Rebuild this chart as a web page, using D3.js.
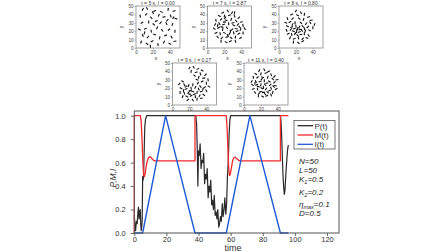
<!DOCTYPE html>
<html><head><meta charset="utf-8">
<script src="https://cdn.jsdelivr.net/npm/d3@7"></script>
<style>body{margin:0;background:#fff}svg{display:block;font-family:"Liberation Sans",Arial,sans-serif}</style>
</head><body><svg id="c" width="448" height="252"></svg>
<script>
// ---------- main chart data ----------
const pTime = [0,0.5,0.8,1.3,1.8,2.3,2.6,3.0,3.3,3.7,4.0,4.3,4.6,4.9,5.2,5.5,5.8,6.2,6.5,7.0,7.7,
38.3,38.8,39.2,39.6,40.0,40.5,41.0,41.6,42.1,42.7,43.2,43.8,44.3,44.9,45.4,46.0,46.5,47.1,47.6,48.2,48.7,49.3,49.8,50.4,50.9,51.5,52.0,52.6,53.1,53.7,54.2,54.8,55.3,55.9,56.4,57.0,57.5,58.0,58.5,59.0,59.5,60.0,
91.0,91.4,91.8,92.2,92.6,93.0,93.4,93.8,94.2,94.6,95.0,95.4,95.8,96.0];
const pVal = [0.15,0.05,0.02,0.1,0.08,0.18,0.22,0.12,0.18,0.2,0.08,0.02,0.05,0.1,0.48,0.45,0.5,0.72,0.9,0.97,1.0,
1.0,0.93,0.72,0.4,0.7,0.66,0.76,0.55,0.62,0.6,0.68,0.42,0.5,0.46,0.55,0.3,0.4,0.35,0.45,0.24,0.28,0.2,0.32,0.15,0.18,0.12,0.2,0.05,0.08,0.14,0.1,0.25,0.14,0.2,0.3,0.16,0.25,0.48,0.6,0.82,0.96,1.0,
1.0,0.95,0.82,0.65,0.5,0.4,0.33,0.36,0.45,0.55,0.62,0.7,0.74,0.75];
const mTime = [0,0,3.8,4.3,4.8,5.3,5.8,6.2,6.7,7.3,8.0,8.8,9.6,10.4,11.2,12.0,13.0,37.8,37.8,57.3,57.8,58.3,58.8,59.3,59.8,60.5,61.3,62.2,63.0,64.0,65.0,66.0,91.0,91.0,96.0];
const mVal = [0,1,1,0.95,0.8,0.62,0.5,0.48,0.5,0.56,0.61,0.64,0.65,0.645,0.63,0.62,0.615,0.615,1,1,0.9,0.72,0.55,0.49,0.5,0.56,0.62,0.645,0.645,0.63,0.62,0.615,0.615,1,1];
const iTime = [0,5.2,19.5,37.8,57.3,72,91,96];
const iVal = [0,0,1,0,0,1,0,0];
const seriesNames = ["P(t)","M(t)","I(t)"];
const xTicks = [0,20,40,60,80,100,120];
const yTicks = [0,0.2,0.4,0.6,0.8,1.0];
const params = [["N","","=50"],["L","","=50"],["K","1","=0.5"],["K","2","=0.2"],["η","max","=0.1"],["D","","=0.5"]];

// ---------- inset data: [x, y, heading in degrees] ----------
const insetTitles = ["t = 5 s, I = 0.00","t = 7 s, I = 2.87","t = 8 s, I = 0.80","t = 9 s, I = 0.27","t = 11 s, I = 0.40"];
const insetTicksX = [0,20,40];
const insetTicksY = [0,10,20,30,40,50];
const inset1 = [[8,46,60],[13,47,120],[22,44,30],[30,43,150],[38,46,80],[45,44,20],
[5,38,100],[12,40,45],[18,36,135],[27,39,70],[33,37,10],[41,38,110],[47,35,160],
[7,30,30],[15,31,90],[21,28,140],[29,30,50],[36,29,120],[43,28,70],
[4,22,150],[11,23,20],[18,20,100],[25,24,60],[31,21,130],[39,22,40],[46,20,90],
[8,15,110],[14,13,50],[22,16,160],[28,12,80],[35,15,20],[42,13,120],
[6,7,70],[13,5,140],[19,8,30],[26,4,100],[33,7,60],[40,5,150],[46,8,10],
[17,2,90],[24,32,20],[10,18,75],[37,33,45],[20,42,115],[44,36,65]];
const inset2 = [[18,42,30],[24,44,120],[29,42,60],[14,38,150],[20,38,80],[26,39,20],[32,38,110],[37,36,45],
[10,33,100],[16,34,40],[22,33,160],[28,34,70],[34,32,130],[40,31,10],
[9,28,60],[14,29,120],[19,28,20],[25,29,90],[31,27,150],[36,28,50],[42,27,100],
[8,23,140],[13,24,30],[18,22,80],[23,24,130],[29,22,40],[34,23,170],[39,22,70],[44,23,120],
[10,18,20],[15,17,100],[20,18,150],[26,17,60],[31,18,110],[37,17,30],[42,18,90],
[12,13,130],[17,12,50],[23,13,10],[28,12,140],[33,13,80],[39,12,40],
[16,8,90],[22,7,150],[27,8,30],[33,8,110],
[21,36,55],[30,30,15],[17,25,165],[27,20,95],[35,20,25],[24,15,125],[12,27,75],[38,25,135],[20,31,5],[32,42,85]];
const inset3 = [[20,44,60],[26,42,120],[15,40,30],[22,39,150],[30,40,80],[35,37,20],
[10,35,110],[16,35,45],[24,35,135],[29,34,70],[38,33,10],
[8,30,160],[13,31,30],[19,30,90],[26,30,140],[32,29,50],[37,30,120],[42,28,70],
[10,26,150],[15,25,20],[20,26,100],[24,25,60],[28,26,130],[34,25,40],[40,24,90],
[9,21,110],[14,22,50],[17,20,160],[21,21,80],[24,19,20],[27,21,120],[31,20,70],[36,21,150],
[11,17,30],[15,16,100],[19,17,60],[22,15,140],[26,16,10],[30,17,90],[35,15,130],
[13,12,70],[18,11,20],[23,12,110],[28,11,50],[33,12,160],
[17,7,80],[23,6,140],[28,8,30],
[18,23,15],[22,23,95],[20,18,45],[25,22,175],[16,28,65],[30,23,105]];
const inset4 = [[20,44,60],[25,45,120],[30,43,30],[35,41,150],[22,40,80],[28,39,20],[33,37,110],[39,36,45],
[26,35,135],[31,33,70],[37,32,10],[42,30,100],[29,30,160],[35,28,30],[40,26,90],
[12,28,140],[8,25,50],[14,24,120],[19,23,70],[10,20,150],[16,19,20],[22,20,100],[27,21,60],[33,22,130],[38,21,40],
[9,15,90],[14,14,110],[19,15,50],[24,16,160],[29,15,80],[34,16,20],[40,17,120],
[12,10,70],[17,10,150],[22,11,30],[27,10,100],[32,11,60],[37,12,140],
[18,6,40],[24,6,120],[29,7,80],[34,8,10],
[20,13,170],[26,13,25],[31,19,115],[36,19,75],[16,22,35],[43,22,145],[24,24,85],[21,17,5],[13,17,95],[30,26,55]];
const inset5 = [[18,41,60],[24,42,120],[29,40,30],[14,37,150],[20,37,80],[26,38,20],[32,36,110],[36,34,45],
[11,33,100],[16,33,40],[22,33,160],[28,33,70],[34,31,130],[39,30,10],
[9,28,60],[14,28,120],[19,28,20],[24,29,90],[30,28,150],[36,27,50],
[10,24,140],[15,24,30],[20,24,80],[25,24,130],[31,24,40],[37,23,170],
[11,19,20],[16,19,100],[21,20,150],[26,19,60],[32,20,110],[38,19,30],
[13,15,130],[18,14,50],[23,15,10],[28,15,140],[34,15,80],
[17,11,90],[22,10,150],[27,11,30],[32,12,110],
[21,31,55],[27,26,15],[17,22,165],[23,21,95],[30,17,25],[25,13,125],[13,26,75],[35,22,135],[20,16,5]];

const svg = d3.select("#c");

// ---------- insets ----------
const insetLayout = [
  {x:136, y:6, data:inset1, xl:true},
  {x:207.5, y:6, data:inset2, xl:true},
  {x:279, y:6, data:inset3, xl:true},
  {x:172.5, y:63, data:inset4, xl:false},
  {x:244, y:63, data:inset5, xl:false}
];
const IW = 44, IH = 42;
insetLayout.forEach((L, k) => {
  const g = svg.append("g").attr("transform", `translate(${L.x},${L.y})`);
  const sx = d3.scaleLinear().domain([0,52]).range([0,IW]);
  const sy = d3.scaleLinear().domain([0,50]).range([IH,0]);
  g.append("rect").attr("width",IW).attr("height",IH).attr("fill","#fff").attr("stroke","#8a8a8a").attr("stroke-width",0.8);
  const ax = g.append("g").attr("transform",`translate(0,${IH})`)
    .call(d3.axisBottom(sx).tickValues(insetTicksX).tickSize(1.5).tickPadding(1));
  const ay = g.append("g").call(d3.axisLeft(sy).tickValues(insetTicksY).tickSize(1.5).tickPadding(1));
  [ax, ay].forEach(a => {
    a.select(".domain").remove();
    a.selectAll("line").attr("stroke","#888").attr("stroke-width",0.6);
    a.selectAll("text").attr("font-size",4.6).attr("fill","#444").attr("font-family","Liberation Sans, Arial, sans-serif");
  });
  g.append("text").attr("x",IW/2).attr("y",-1.5).attr("text-anchor","middle")
    .attr("font-size",5).attr("fill","#333").text(insetTitles[k]);
  g.append("text").attr("transform",`translate(-13,${IH/2}) rotate(-90)`).attr("text-anchor","middle")
    .attr("font-size",5).attr("fill","#333").text("y");
  if (L.xl) g.append("text").attr("x",IW/2-2).attr("y",IH+11.5).attr("text-anchor","middle")
    .attr("font-size",5).attr("fill","#333").text("x");
  g.selectAll("line.p").data(L.data).enter().append("line").attr("class","p")
    .attr("x1", d => sx(d[0]) - 1.5*Math.cos(d[2]*Math.PI/180))
    .attr("y1", d => sy(d[1]) + 1.5*Math.sin(d[2]*Math.PI/180))
    .attr("x2", d => sx(d[0]) + 1.5*Math.cos(d[2]*Math.PI/180))
    .attr("y2", d => sy(d[1]) - 1.5*Math.sin(d[2]*Math.PI/180))
    .attr("stroke","#111").attr("stroke-width",1.1);
});

// ---------- main chart ----------
const M = {l:134.3, r:339, t:111, b:233};
const x = d3.scaleLinear().domain([0,127.5]).range([M.l,M.r]);
const y = d3.scaleLinear().domain([0,1.04]).range([M.b,M.t]);
const main = svg.append("g");
main.append("rect").attr("x",M.l).attr("y",M.t).attr("width",M.r-M.l).attr("height",M.b-M.t).attr("fill","#fff");

const line = d3.line().x(d=>x(d[0])).y(d=>y(d[1]));
const series = [
  {t:pTime, v:pVal, c:"#2a2a2a", w:1.2},
  {t:mTime, v:mVal, c:"#f2292c", w:1.3},
  {t:iTime, v:iVal, c:"#1f5ad6", w:1.4}
];
series.forEach(s => {
  main.append("path").datum(s.t.map((t,i)=>[t,s.v[i]]))
    .attr("d",line).attr("fill","none").attr("stroke",s.c).attr("stroke-width",s.w).attr("stroke-linejoin","round");
});

// axes
const gx = main.append("g").attr("transform",`translate(0,${M.b})`)
  .call(d3.axisBottom(x).tickValues(xTicks).tickFormat(d3.format("d")).tickSize(3).tickPadding(1));
const gy = main.append("g").attr("transform",`translate(${M.l},0)`)
  .call(d3.axisLeft(y).tickValues(yTicks).tickFormat(d3.format(".1f")).tickSize(3.5).tickPadding(5));
[gx, gy].forEach(a => {
  a.select(".domain").remove();
  a.selectAll("line").attr("stroke","#555").attr("stroke-width",0.9);
  a.selectAll("text").attr("font-size",7.5).attr("fill","#333").attr("font-family","Liberation Sans, Arial, sans-serif");
});
main.append("rect").attr("x",M.l).attr("y",M.t).attr("width",M.r-M.l).attr("height",M.b-M.t)
  .attr("fill","none").attr("stroke","#555").attr("stroke-width",1);

main.append("text").attr("x",233).attr("y",251).attr("text-anchor","middle")
  .attr("font-size",9).attr("fill","#333").text("time");
main.append("text").attr("transform","translate(116,178) rotate(-90)").attr("text-anchor","middle")
  .attr("font-size",8.5).attr("font-style","italic").attr("fill","#333").text("P,M,I");

// legend
const lg = main.append("g");
lg.append("rect").attr("x",294).attr("y",120.5).attr("width",41).attr("height",28.5)
  .attr("fill","#fff").attr("stroke","#555").attr("stroke-width",0.8);
seriesNames.forEach((n,i) => {
  const yy = 125.7 + i*9.3;
  lg.append("line").attr("x1",297.5).attr("x2",313).attr("y1",yy).attr("y2",yy)
    .attr("stroke",series[i].c).attr("stroke-width",1.3);
  lg.append("text").attr("x",314.5).attr("y",yy).attr("dy","0.35em")
    .attr("font-size",8).attr("fill","#333").text(n);
});

// parameter annotations
const py = [161,170,179,192.3,204.3,213.3];
params.forEach((p,i) => {
  const t = main.append("text").attr("x",299).attr("y",py[i]).attr("dy","0.35em")
    .attr("font-size",8).attr("font-style","italic").attr("fill","#222");
  t.append("tspan").text(p[0]);
  if (p[1]) t.append("tspan").attr("font-size",5.5).attr("dy","2").text(p[1]);
  t.append("tspan").attr("dy", p[1] ? "-2" : "0").text(p[2]);
});
</script></body></html>
